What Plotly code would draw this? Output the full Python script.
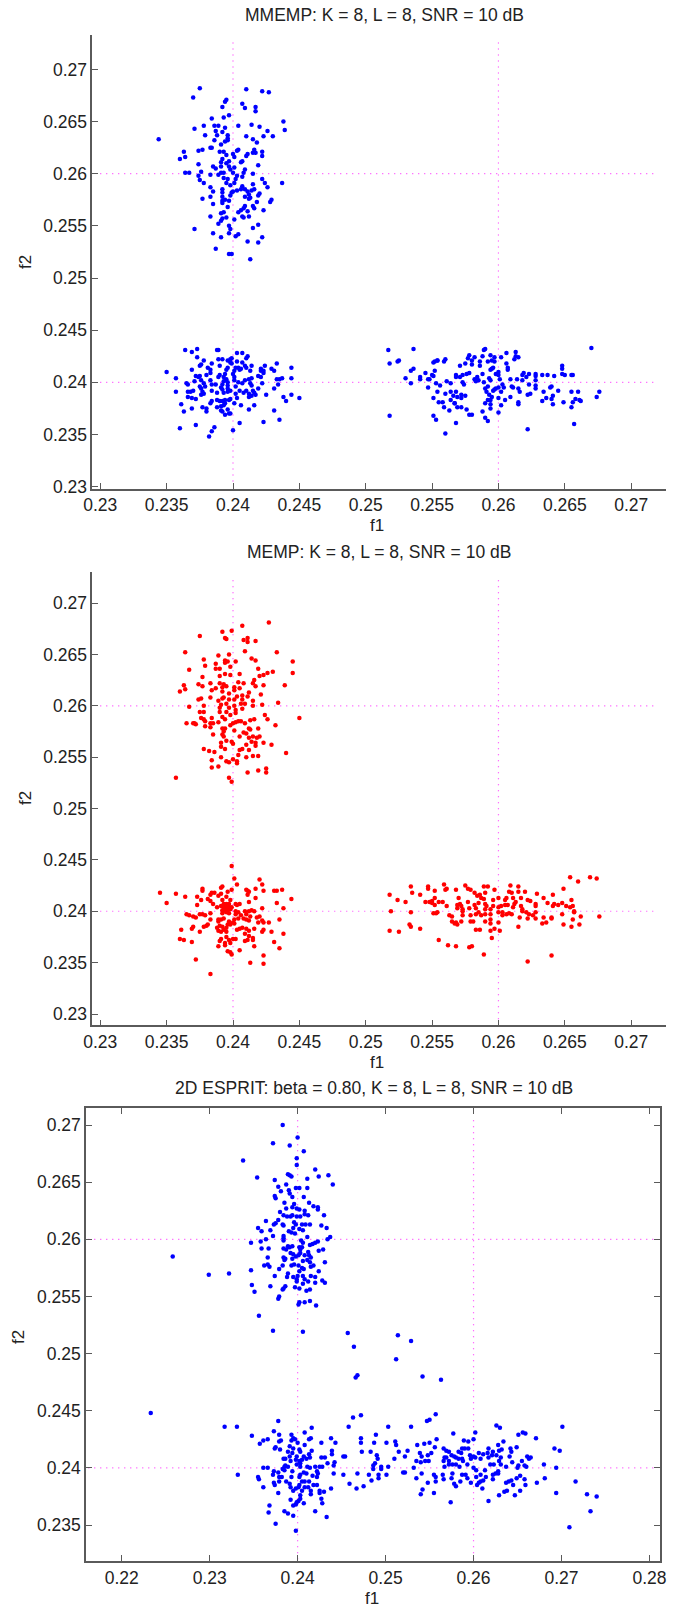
import plotly.graph_objects as go

W, H = 686, 1607

# (f1, f2) estimates, one list per cluster
mmemp_upper = [(.2344,.2633),(.2375,.2682),(.2370,.2673),(.2410,.2681),(.2422,.2679),(.2427,.2678),(.2395,.2671),(.2394,.2669),(.2392,.2664),(.2407,.2667),(.2409,.2663),(.2417,.2664),(.2417,.2660),(.2397,.2656),(.2393,.2654),(.2384,.2653),(.2438,.2650),(.2439,.2642),(.2378,.2646),(.2371,.2643),(.2386,.2646),(.2389,.2646),(.2404,.2646),(.2414,.2647),(.2420,.2645),(.2426,.2641),(.2430,.2636),(.2423,.2636),(.2410,.2636),(.2415,.2633),(.2418,.2630),(.2394,.2644),(.2387,.2641),(.2392,.2640),(.2388,.2637),(.2379,.2637),(.2396,.2637),(.2396,.2634),(.2386,.2632),(.2396,.2632),(.2394,.2631),(.2391,.2628),(.2383,.2625),(.2384,.2625),(.2377,.2623),(.2374,.2622),(.2363,.2621),(.2364,.2616),(.2360,.2614),(.2374,.2609),(.2364,.2601),(.2367,.2601),(.2376,.2602),(.2374,.2598),(.2375,.2594),(.2378,.2591),(.2383,.2599),(.2390,.2621),(.2393,.2621),(.2395,.2618),(.2403,.2622),(.2404,.2623),(.2400,.2619),(.2401,.2616),(.2411,.2619),(.2410,.2617),(.2415,.2620),(.2416,.2623),(.2417,.2620),(.2422,.2621),(.2422,.2617),(.2419,.2608),(.2392,.2614),(.2391,.2611),(.2397,.2612),(.2395,.2610),(.2407,.2612),(.2406,.2611),(.2385,.2607),(.2387,.2605),(.2391,.2607),(.2397,.2607),(.2401,.2606),(.2409,.2604),(.2408,.2601),(.2415,.2600),(.2389,.2599),(.2391,.2601),(.2393,.2601),(.2398,.2604),(.2400,.2601),(.2393,.2596),(.2396,.2595),(.2403,.2598),(.2402,.2595),(.2407,.2597),(.2401,.2591),(.2395,.2591),(.2398,.2589),(.2383,.2587),(.2385,.2583),(.2383,.2578),(.2377,.2576),(.2385,.2571),(.2392,.2585),(.2392,.2582),(.2392,.2578),(.2392,.2574),(.2392,.2572),(.2394,.2575),(.2397,.2574),(.2398,.2579),(.2399,.2582),(.2400,.2583),(.2403,.2584),(.2406,.2585),(.2407,.2588),(.2409,.2585),(.2411,.2583),(.2412,.2580),(.2409,.2578),(.2412,.2576),(.2413,.2577),(.2414,.2584),(.2416,.2585),(.2415,.2590),(.2422,.2595),(.2424,.2591),(.2426,.2587),(.2437,.2591),(.2420,.2581),(.2419,.2579),(.2418,.2573),(.2429,.2575),(.2428,.2573),(.2415,.2569),(.2416,.2567),(.2423,.2565),(.2409,.2569),(.2408,.2567),(.2411,.2564),(.2406,.2565),(.2404,.2563),(.2396,.2568),(.2393,.2563),(.2391,.2562),(.2383,.2559),(.2395,.2558),(.2392,.2557),(.2391,.2555),(.2389,.2552),(.2401,.2556),(.2407,.2559),(.2408,.2558),(.2412,.2559),(.2419,.2551),(.2415,.2548),(.2397,.2550),(.2398,.2547),(.2371,.2547),(.2385,.2543),(.2397,.2543),(.2404,.2542),(.2402,.2540),(.2391,.2539),(.2411,.2535),(.2419,.2534),(.2422,.2539),(.2387,.2528),(.2399,.2523),(.2397,.2523),(.2413,.2518)]

mmemp_lower = [(.2350,.2410),(.2364,.2431),(.2369,.2429),(.2373,.2432),(.2373,.2424),(.2378,.2421),(.2376,.2417),(.2375,.2416),(.2369,.2412),(.2357,.2404),(.2365,.2399),(.2366,.2398),(.2357,.2391),(.2366,.2391),(.2368,.2391),(.2370,.2392),(.2372,.2406),(.2375,.2406),(.2374,.2405),(.2371,.2401),(.2376,.2402),(.2380,.2407),(.2381,.2414),(.2384,.2418),(.2383,.2412),(.2383,.2409),(.2388,.2431),(.2389,.2431),(.2389,.2422),(.2390,.2416),(.2389,.2405),(.2390,.2407),(.2383,.2402),(.2384,.2398),(.2387,.2398),(.2392,.2422),(.2396,.2421),(.2398,.2422),(.2399,.2423),(.2398,.2419),(.2399,.2418),(.2403,.2420),(.2403,.2428),(.2407,.2428),(.2411,.2425),(.2410,.2423),(.2407,.2419),(.2409,.2416),(.2410,.2414),(.2414,.2416),(.2413,.2411),(.2421,.2413),(.2421,.2411),(.2423,.2411),(.2424,.2416),(.2429,.2413),(.2433,.2418),(.2431,.2411),(.2444,.2414),(.2444,.2404),(.2437,.2404),(.2433,.2403),(.2435,.2403),(.2434,.2398),(.2431,.2394),(.2422,.2399),(.2421,.2405),(.2419,.2406),(.2423,.2409),(.2396,.2414),(.2395,.2412),(.2402,.2414),(.2404,.2414),(.2405,.2412),(.2401,.2411),(.2406,.2413),(.2394,.2408),(.2393,.2405),(.2400,.2408),(.2401,.2405),(.2404,.2400),(.2407,.2399),(.2409,.2402),(.2412,.2403),(.2414,.2404),(.2413,.2399),(.2414,.2397),(.2393,.2401),(.2395,.2403),(.2396,.2400),(.2401,.2402),(.2402,.2396),(.2392,.2398),(.2396,.2397),(.2391,.2395),(.2392,.2393),(.2396,.2394),(.2378,.2399),(.2375,.2396),(.2376,.2394),(.2379,.2396),(.2377,.2391),(.2376,.2388),(.2378,.2389),(.2384,.2392),(.2388,.2390),(.2393,.2390),(.2396,.2391),(.2398,.2392),(.2402,.2389),(.2405,.2392),(.2408,.2390),(.2410,.2392),(.2412,.2389),(.2415,.2392),(.2419,.2394),(.2416,.2390),(.2417,.2388),(.2414,.2387),(.2412,.2386),(.2425,.2388),(.2438,.2386),(.2444,.2388),(.2450,.2385),(.2440,.2382),(.2366,.2386),(.2361,.2379),(.2369,.2385),(.2372,.2384),(.2363,.2372),(.2369,.2375),(.2377,.2376),(.2380,.2375),(.2380,.2372),(.2383,.2380),(.2384,.2382),(.2388,.2383),(.2390,.2382),(.2392,.2382),(.2394,.2383),(.2397,.2383),(.2398,.2384),(.2403,.2385),(.2406,.2378),(.2401,.2380),(.2388,.2376),(.2391,.2377),(.2393,.2378),(.2394,.2380),(.2396,.2374),(.2392,.2372),(.2391,.2373),(.2394,.2369),(.2397,.2370),(.2398,.2370),(.2412,.2374),(.2416,.2378),(.2431,.2373),(.2435,.2364),(.2423,.2362),(.2405,.2361),(.2360,.2356),(.2372,.2359),(.2386,.2357),(.2384,.2353),(.2382,.2348),(.2400,.2354)]

mmemp_right = [(.2517,.2431),(.2518,.2418),(.2525,.2421),(.2524,.2420),(.2536,.2432),(.2518,.2368),(.2530,.2404),(.2534,.2411),(.2536,.2413),(.2534,.2399),(.2541,.2405),(.2541,.2403),(.2545,.2409),(.2547,.2403),(.2548,.2403),(.2550,.2407),(.2551,.2406),(.2552,.2411),(.2551,.2419),(.2552,.2420),(.2554,.2421),(.2554,.2421),(.2559,.2420),(.2560,.2422),(.2547,.2395),(.2553,.2399),(.2554,.2391),(.2551,.2385),(.2556,.2397),(.2561,.2401),(.2564,.2399),(.2560,.2389),(.2564,.2391),(.2568,.2391),(.2566,.2387),(.2569,.2386),(.2572,.2388),(.2572,.2385),(.2555,.2381),(.2558,.2381),(.2559,.2376),(.2564,.2383),(.2567,.2380),(.2575,.2387),(.2567,.2380),(.2569,.2376),(.2572,.2376),(.2563,.2373),(.2551,.2368),(.2553,.2364),(.2560,.2351),(.2568,.2361),(.2576,.2374),(.2578,.2369),(.2580,.2369),(.2568,.2407),(.2568,.2405),(.2571,.2405),(.2571,.2416),(.2573,.2407),(.2573,.2400),(.2574,.2398),(.2575,.2418),(.2576,.2408),(.2578,.2409),(.2578,.2426),(.2577,.2423),(.2580,.2421),(.2580,.2417),(.2582,.2424),(.2582,.2403),(.2583,.2401),(.2584,.2405),(.2585,.2402),(.2586,.2416),(.2586,.2420),(.2588,.2408),(.2588,.2425),(.2589,.2431),(.2590,.2432),(.2589,.2400),(.2590,.2394),(.2591,.2391),(.2592,.2396),(.2592,.2420),(.2593,.2404),(.2594,.2402),(.2594,.2412),(.2595,.2413),(.2595,.2421),(.2594,.2426),(.2596,.2414),(.2597,.2420),(.2597,.2424),(.2598,.2408),(.2596,.2392),(.2593,.2388),(.2595,.2386),(.2597,.2393),(.2594,.2383),(.2592,.2383),(.2590,.2380),(.2594,.2379),(.2594,.2375),(.2588,.2372),(.2590,.2366),(.2592,.2363),(.2600,.2371),(.2598,.2394),(.2600,.2385),(.2600,.2395),(.2600,.2410),(.2600,.2407),(.2601,.2403),(.2602,.2424),(.2603,.2398),(.2602,.2391),(.2602,.2378),(.2604,.2395),(.2605,.2383),(.2606,.2418),(.2606,.2428),(.2607,.2414),(.2607,.2412),(.2609,.2403),(.2610,.2396),(.2609,.2386),(.2611,.2395),(.2612,.2422),(.2613,.2425),(.2613,.2429),(.2615,.2424),(.2614,.2403),(.2615,.2394),(.2615,.2381),(.2615,.2379),(.2616,.2391),(.2618,.2402),(.2618,.2407),(.2619,.2409),(.2622,.2355),(.2621,.2405),(.2622,.2388),(.2623,.2398),(.2623,.2408),(.2624,.2389),(.2628,.2394),(.2628,.2402),(.2628,.2406),(.2628,.2408),(.2628,.2397),(.2633,.2382),(.2634,.2391),(.2636,.2385),(.2633,.2407),(.2637,.2407),(.2639,.2395),(.2640,.2396),(.2640,.2384),(.2641,.2379),(.2641,.2387),(.2642,.2406),(.2645,.2392),(.2648,.2408),(.2648,.2413),(.2648,.2416),(.2649,.2381),(.2650,.2407),(.2655,.2391),(.2655,.2407),(.2656,.2407),(.2655,.2376),(.2656,.2381),(.2658,.2384),(.2660,.2391),(.2661,.2383),(.2662,.2382),(.2657,.2360),(.2670,.2433),(.2674,.2386),(.2676,.2391)]

memp_upper = [(.2357,.2530),(.2427,.2681),(.2407,.2678),(.2399,.2673),(.2392,.2672),(.2375,.2668),(.2394,.2666),(.2395,.2665),(.2408,.2664),(.2411,.2666),(.2411,.2662),(.2417,.2663),(.2409,.2653),(.2364,.2652),(.2433,.2652),(.2397,.2650),(.2389,.2649),(.2378,.2645),(.2379,.2639),(.2414,.2646),(.2417,.2644),(.2394,.2644),(.2394,.2642),(.2396,.2643),(.2402,.2643),(.2445,.2643),(.2445,.2632),(.2387,.2641),(.2387,.2636),(.2390,.2636),(.2398,.2638),(.2367,.2635),(.2419,.2636),(.2430,.2633),(.2426,.2632),(.2423,.2630),(.2420,.2629),(.2405,.2631),(.2398,.2630),(.2394,.2631),(.2390,.2629),(.2377,.2628),(.2416,.2625),(.2415,.2622),(.2417,.2619),(.2423,.2620),(.2439,.2620),(.2374,.2621),(.2377,.2619),(.2363,.2620),(.2364,.2616),(.2360,.2614),(.2383,.2622),(.2390,.2622),(.2393,.2621),(.2404,.2623),(.2408,.2622),(.2387,.2617),(.2384,.2615),(.2392,.2618),(.2392,.2614),(.2395,.2619),(.2401,.2618),(.2401,.2615),(.2405,.2617),(.2412,.2613),(.2421,.2611),(.2397,.2612),(.2407,.2610),(.2403,.2609),(.2411,.2609),(.2383,.2608),(.2376,.2607),(.2374,.2606),(.2389,.2605),(.2392,.2607),(.2393,.2608),(.2397,.2606),(.2401,.2606),(.2407,.2606),(.2415,.2605),(.2434,.2603),(.2367,.2599),(.2378,.2600),(.2391,.2601),(.2395,.2602),(.2406,.2602),(.2409,.2602),(.2415,.2600),(.2422,.2601),(.2375,.2594),(.2378,.2594),(.2390,.2598),(.2397,.2598),(.2401,.2600),(.2407,.2597),(.2390,.2594),(.2395,.2594),(.2398,.2591),(.2402,.2596),(.2402,.2593),(.2392,.2589),(.2424,.2591),(.2376,.2588),(.2378,.2587),(.2379,.2585),(.2384,.2588),(.2383,.2583),(.2385,.2583),(.2389,.2584),(.2394,.2587),(.2426,.2587),(.2450,.2588),(.2365,.2583),(.2370,.2583),(.2371,.2583),(.2372,.2582),(.2379,.2580),(.2383,.2579),(.2398,.2581),(.2400,.2583),(.2402,.2584),(.2404,.2585),(.2406,.2585),(.2409,.2583),(.2413,.2586),(.2416,.2587),(.2432,.2581),(.2412,.2578),(.2413,.2577),(.2419,.2578),(.2392,.2578),(.2394,.2578),(.2393,.2575),(.2392,.2572),(.2385,.2572),(.2401,.2576),(.2408,.2574),(.2410,.2573),(.2405,.2570),(.2412,.2569),(.2415,.2570),(.2418,.2569),(.2420,.2570),(.2393,.2570),(.2395,.2566),(.2399,.2565),(.2400,.2563),(.2391,.2564),(.2391,.2560),(.2394,.2558),(.2414,.2565),(.2417,.2564),(.2417,.2561),(.2423,.2564),(.2429,.2562),(.2410,.2562),(.2412,.2557),(.2407,.2558),(.2405,.2557),(.2378,.2558),(.2382,.2556),(.2386,.2555),(.2440,.2554),(.2404,.2552),(.2415,.2551),(.2419,.2551),(.2410,.2550),(.2391,.2550),(.2384,.2547),(.2400,.2548),(.2395,.2546),(.2397,.2545),(.2403,.2546),(.2403,.2544),(.2384,.2540),(.2389,.2541),(.2425,.2539),(.2419,.2537),(.2411,.2535),(.2425,.2535),(.2397,.2530),(.2399,.2526)]

memp_lower = [(.2345,.2418),(.2350,.2408),(.2357,.2417),(.2364,.2414),(.2373,.2414),(.2377,.2420),(.2377,.2422),(.2376,.2411),(.2373,.2406),(.2365,.2397),(.2367,.2396),(.2370,.2395),(.2372,.2394),(.2375,.2397),(.2377,.2397),(.2379,.2396),(.2383,.2398),(.2383,.2392),(.2381,.2412),(.2383,.2410),(.2383,.2416),(.2384,.2418),(.2386,.2418),(.2385,.2407),(.2388,.2404),(.2391,.2423),(.2392,.2424),(.2391,.2417),(.2389,.2415),(.2396,.2419),(.2399,.2444),(.2401,.2432),(.2403,.2426),(.2399,.2421),(.2395,.2414),(.2398,.2411),(.2392,.2411),(.2393,.2407),(.2395,.2407),(.2397,.2407),(.2391,.2405),(.2393,.2404),(.2395,.2404),(.2397,.2404),(.2399,.2404),(.2392,.2401),(.2394,.2401),(.2396,.2401),(.2398,.2402),(.2392,.2398),(.2395,.2399),(.2397,.2398),(.2389,.2392),(.2391,.2392),(.2393,.2393),(.2402,.2407),(.2403,.2406),(.2405,.2407),(.2410,.2421),(.2411,.2420),(.2412,.2419),(.2411,.2416),(.2417,.2422),(.2420,.2431),(.2422,.2426),(.2423,.2420),(.2417,.2413),(.2412,.2409),(.2431,.2420),(.2433,.2420),(.2437,.2421),(.2444,.2412),(.2433,.2408),(.2438,.2403),(.2422,.2403),(.2409,.2400),(.2412,.2400),(.2414,.2401),(.2416,.2400),(.2402,.2400),(.2404,.2399),(.2402,.2397),(.2406,.2396),(.2404,.2393),(.2401,.2392),(.2410,.2397),(.2413,.2395),(.2410,.2392),(.2408,.2393),(.2412,.2391),(.2418,.2394),(.2420,.2395),(.2422,.2391),(.2427,.2389),(.2435,.2392),(.2419,.2389),(.2423,.2389),(.2397,.2390),(.2400,.2389),(.2398,.2387),(.2396,.2387),(.2395,.2384),(.2401,.2388),(.2389,.2390),(.2390,.2386),(.2392,.2385),(.2388,.2384),(.2389,.2381),(.2391,.2380),(.2393,.2382),(.2395,.2380),(.2403,.2382),(.2405,.2383),(.2407,.2384),(.2410,.2383),(.2412,.2381),(.2416,.2383),(.2423,.2382),(.2422,.2380),(.2429,.2380),(.2438,.2378),(.2409,.2378),(.2412,.2376),(.2415,.2374),(.2411,.2372),(.2409,.2371),(.2415,.2372),(.2400,.2373),(.2402,.2373),(.2397,.2372),(.2391,.2373),(.2390,.2371),(.2395,.2375),(.2394,.2369),(.2398,.2369),(.2389,.2366),(.2394,.2367),(.2416,.2366),(.2431,.2370),(.2435,.2364),(.2396,.2361),(.2398,.2360),(.2399,.2358),(.2405,.2362),(.2361,.2382),(.2369,.2383),(.2370,.2385),(.2375,.2380),(.2378,.2385),(.2380,.2386),(.2381,.2387),(.2360,.2373),(.2363,.2372),(.2369,.2370),(.2372,.2353),(.2413,.2350),(.2423,.2357),(.2423,.2349),(.2383,.2339)]

memp_right = [(.2518,.2416),(.2519,.2400),(.2518,.2381),(.2524,.2411),(.2525,.2380),(.2530,.2409),(.2534,.2424),(.2535,.2418),(.2534,.2399),(.2533,.2387),(.2534,.2385),(.2541,.2416),(.2541,.2383),(.2545,.2409),(.2547,.2422),(.2547,.2424),(.2548,.2409),(.2550,.2410),(.2550,.2408),(.2552,.2406),(.2552,.2413),(.2552,.2420),(.2551,.2398),(.2553,.2398),(.2554,.2399),(.2555,.2409),(.2558,.2409),(.2559,.2426),(.2560,.2421),(.2561,.2422),(.2561,.2405),(.2555,.2372),(.2562,.2367),(.2563,.2396),(.2565,.2395),(.2565,.2390),(.2567,.2388),(.2568,.2389),(.2569,.2387),(.2568,.2421),(.2569,.2406),(.2569,.2403),(.2570,.2413),(.2571,.2407),(.2572,.2405),(.2573,.2402),(.2573,.2400),(.2573,.2396),(.2572,.2390),(.2568,.2366),(.2575,.2425),(.2577,.2409),(.2577,.2422),(.2579,.2421),(.2578,.2403),(.2579,.2396),(.2579,.2390),(.2581,.2390),(.2578,.2365),(.2580,.2366),(.2582,.2406),(.2583,.2403),(.2583,.2397),(.2582,.2418),(.2585,.2399),(.2585,.2408),(.2584,.2415),(.2586,.2416),(.2587,.2413),(.2587,.2396),(.2583,.2382),(.2586,.2382),(.2589,.2424),(.2592,.2424),(.2589,.2412),(.2590,.2418),(.2590,.2407),(.2591,.2405),(.2590,.2402),(.2590,.2397),(.2590,.2390),(.2594,.2402),(.2594,.2397),(.2594,.2392),(.2594,.2388),(.2594,.2381),(.2589,.2358),(.2595,.2374),(.2596,.2405),(.2596,.2411),(.2597,.2383),(.2597,.2421),(.2600,.2404),(.2600,.2413),(.2600,.2399),(.2600,.2389),(.2601,.2381),(.2602,.2405),(.2603,.2399),(.2603,.2396),(.2605,.2411),(.2605,.2406),(.2606,.2413),(.2606,.2397),(.2607,.2406),(.2608,.2419),(.2609,.2425),(.2608,.2398),(.2610,.2397),(.2610,.2418),(.2611,.2413),(.2611,.2404),(.2612,.2407),(.2613,.2409),(.2615,.2419),(.2615,.2424),(.2615,.2385),(.2616,.2394),(.2617,.2413),(.2617,.2405),(.2618,.2402),(.2618,.2400),(.2620,.2419),(.2621,.2399),(.2622,.2393),(.2622,.2351),(.2622,.2411),(.2624,.2410),(.2623,.2397),(.2626,.2396),(.2628,.2393),(.2628,.2407),(.2628,.2405),(.2628,.2399),(.2629,.2417),(.2633,.2388),(.2634,.2394),(.2634,.2413),(.2636,.2389),(.2640,.2394),(.2640,.2393),(.2640,.2357),(.2637,.2408),(.2641,.2405),(.2642,.2407),(.2641,.2416),(.2645,.2406),(.2648,.2408),(.2648,.2397),(.2649,.2422),(.2649,.2387),(.2651,.2405),(.2654,.2404),(.2654,.2433),(.2655,.2385),(.2655,.2411),(.2656,.2392),(.2656,.2405),(.2657,.2400),(.2657,.2399),(.2660,.2429),(.2661,.2387),(.2662,.2395),(.2669,.2433),(.2674,.2432),(.2676,.2395)]

esprit_upper = [(.2383,.2700),(.2400,.2689),(.2372,.2684),(.2391,.2682),(.2407,.2677),(.2399,.2671),(.2338,.2669),(.2399,.2665),(.2420,.2661),(.2389,.2657),(.2391,.2656),(.2393,.2655),(.2424,.2655),(.2435,.2656),(.2354,.2654),(.2411,.2653),(.2374,.2652),(.2387,.2648),(.2440,.2648),(.2378,.2646),(.2398,.2645),(.2402,.2645),(.2411,.2645),(.2381,.2642),(.2390,.2643),(.2391,.2640),(.2374,.2638),(.2375,.2636),(.2394,.2637),(.2407,.2637),(.2413,.2632),(.2385,.2632),(.2396,.2631),(.2418,.2629),(.2423,.2628),(.2423,.2626),(.2387,.2627),(.2394,.2628),(.2399,.2627),(.2402,.2626),(.2408,.2625),(.2408,.2622),(.2380,.2624),(.2384,.2621),(.2388,.2620),(.2392,.2620),(.2394,.2621),(.2399,.2620),(.2403,.2620),(.2412,.2621),(.2430,.2621),(.2378,.2617),(.2364,.2616),(.2375,.2614),(.2373,.2613),(.2383,.2613),(.2384,.2612),(.2396,.2615),(.2398,.2613),(.2405,.2613),(.2409,.2613),(.2414,.2613),(.2427,.2612),(.2433,.2610),(.2355,.2610),(.2369,.2608),(.2359,.2607),(.2395,.2610),(.2402,.2609),(.2390,.2607),(.2393,.2606),(.2397,.2605),(.2406,.2608),(.2372,.2603),(.2364,.2600),(.2384,.2603),(.2384,.2601),(.2384,.2599),(.2404,.2599),(.2411,.2602),(.2437,.2602),(.2434,.2600),(.2347,.2597),(.2358,.2598),(.2406,.2597),(.2423,.2598),(.2420,.2597),(.2417,.2596),(.2414,.2595),(.2367,.2592),(.2359,.2592),(.2389,.2594),(.2394,.2594),(.2391,.2593),(.2384,.2592),(.2387,.2591),(.2402,.2593),(.2405,.2593),(.2403,.2591),(.2429,.2591),(.2424,.2590),(.2412,.2589),(.2392,.2588),(.2395,.2587),(.2403,.2588),(.2401,.2586),(.2398,.2585),(.2408,.2586),(.2413,.2586),(.2415,.2584),(.2366,.2584),(.2384,.2584),(.2386,.2583),(.2385,.2582),(.2394,.2583),(.2406,.2581),(.2411,.2582),(.2414,.2580),(.2431,.2580),(.2362,.2577),(.2366,.2578),(.2368,.2576),(.2383,.2577),(.2393,.2577),(.2396,.2578),(.2401,.2577),(.2418,.2577),(.2415,.2576),(.2347,.2573),(.2299,.2569),(.2322,.2570),(.2258,.2585),(.2379,.2574),(.2405,.2575),(.2407,.2574),(.2402,.2572),(.2424,.2572),(.2389,.2570),(.2374,.2568),(.2388,.2567),(.2395,.2567),(.2400,.2568),(.2406,.2568),(.2415,.2568),(.2420,.2567),(.2399,.2565),(.2399,.2563),(.2408,.2565),(.2428,.2564),(.2431,.2562),(.2412,.2563),(.2420,.2562),(.2406,.2561),(.2348,.2560),(.2369,.2559),(.2386,.2559),(.2384,.2557),(.2383,.2556),(.2397,.2558),(.2402,.2557),(.2414,.2556),(.2410,.2555),(.2351,.2554),(.2379,.2550),(.2378,.2548),(.2402,.2545),(.2408,.2545),(.2414,.2546),(.2401,.2543),(.2421,.2542),(.2356,.2533),(.2372,.2520),(.2406,.2519)]

esprit_middle = [(.2457,.2518),(.2514,.2516),(.2464,.2506),(.2512,.2495),(.2466,.2479),(.2468,.2481),(.2542,.2480),(.2563,.2477),(.2529,.2511)]

esprit_lower = [(.2233,.2448),(.2317,.2436),(.2331,.2436),(.2332,.2394),(.2348,.2428),(.2378,.2441),(.2373,.2432),(.2379,.2429),(.2393,.2429),(.2408,.2431),(.2416,.2435),(.2458,.2436),(.2463,.2444),(.2472,.2446),(.2503,.2436),(.2489,.2429),(.2361,.2424),(.2366,.2425),(.2357,.2421),(.2379,.2423),(.2381,.2424),(.2395,.2426),(.2397,.2425),(.2393,.2424),(.2400,.2422),(.2413,.2425),(.2415,.2426),(.2427,.2422),(.2438,.2426),(.2443,.2422),(.2472,.2426),(.2472,.2422),(.2487,.2422),(.2501,.2422),(.2511,.2423),(.2512,.2420),(.2374,.2417),(.2375,.2418),(.2380,.2416),(.2391,.2419),(.2395,.2417),(.2389,.2414),(.2408,.2420),(.2402,.2416),(.2403,.2414),(.2416,.2415),(.2394,.2413),(.2439,.2415),(.2439,.2412),(.2473,.2414),(.2483,.2414),(.2515,.2414),(.2452,.2410),(.2454,.2410),(.2490,.2411),(.2413,.2412),(.2407,.2410),(.2399,.2410),(.2391,.2410),(.2384,.2408),(.2386,.2408),(.2392,.2406),(.2398,.2407),(.2402,.2406),(.2405,.2407),(.2410,.2408),(.2414,.2409),(.2427,.2409),(.2431,.2409),(.2491,.2408),(.2510,.2408),(.2434,.2404),(.2442,.2405),(.2441,.2402),(.2403,.2404),(.2399,.2403),(.2488,.2404),(.2486,.2402),(.2386,.2402),(.2385,.2401),(.2389,.2401),(.2361,.2400),(.2366,.2400),(.2403,.2401),(.2411,.2401),(.2414,.2400),(.2420,.2401),(.2425,.2401),(.2428,.2401),(.2486,.2399),(.2495,.2401),(.2495,.2399),(.2503,.2401),(.2373,.2397),(.2372,.2394),(.2378,.2396),(.2383,.2399),(.2385,.2398),(.2394,.2397),(.2393,.2392),(.2407,.2396),(.2403,.2394),(.2410,.2395),(.2422,.2397),(.2423,.2395),(.2441,.2395),(.2452,.2394),(.2468,.2395),(.2481,.2394),(.2492,.2394),(.2501,.2394),(.2379,.2392),(.2382,.2392),(.2402,.2392),(.2417,.2393),(.2422,.2392),(.2355,.2392),(.2356,.2390),(.2492,.2391),(.2484,.2389),(.2373,.2387),(.2379,.2388),(.2387,.2388),(.2405,.2388),(.2408,.2388),(.2413,.2388),(.2374,.2385),(.2391,.2386),(.2402,.2385),(.2418,.2385),(.2422,.2385),(.2408,.2383),(.2412,.2383),(.2392,.2383),(.2398,.2382),(.2401,.2383),(.2361,.2383),(.2459,.2386),(.2475,.2384),(.2467,.2382),(.2438,.2382),(.2425,.2380),(.2430,.2379),(.2425,.2378),(.2415,.2380),(.2415,.2377),(.2378,.2378),(.2395,.2380),(.2405,.2380),(.2403,.2376),(.2392,.2372),(.2403,.2373),(.2401,.2371),(.2399,.2370),(.2407,.2369),(.2427,.2373),(.2428,.2369),(.2368,.2367),(.2395,.2367),(.2398,.2368),(.2367,.2361),(.2385,.2362),(.2389,.2360),(.2395,.2358),(.2420,.2362),(.2433,.2357),(.2375,.2351),(.2398,.2345)]

esprit_right = [(.2529,.2436),(.2557,.2447),(.2550,.2442),(.2547,.2441),(.2577,.2430),(.2602,.2431),(.2626,.2437),(.2630,.2435),(.2651,.2429),(.2656,.2431),(.2659,.2430),(.2671,.2426),(.2701,.2436),(.2558,.2425),(.2550,.2422),(.2544,.2421),(.2536,.2420),(.2525,.2415),(.2522,.2410),(.2539,.2413),(.2541,.2410),(.2548,.2411),(.2552,.2413),(.2556,.2418),(.2535,.2406),(.2540,.2405),(.2545,.2406),(.2549,.2406),(.2532,.2400),(.2566,.2417),(.2569,.2415),(.2572,.2414),(.2575,.2411),(.2567,.2409),(.2569,.2409),(.2566,.2406),(.2572,.2406),(.2572,.2403),(.2576,.2403),(.2580,.2403),(.2567,.2401),(.2578,.2410),(.2580,.2409),(.2583,.2414),(.2587,.2417),(.2590,.2417),(.2594,.2417),(.2589,.2424),(.2594,.2423),(.2600,.2425),(.2586,.2413),(.2583,.2408),(.2587,.2408),(.2588,.2406),(.2593,.2403),(.2584,.2401),(.2596,.2411),(.2600,.2410),(.2602,.2409),(.2597,.2408),(.2608,.2408),(.2606,.2413),(.2611,.2412),(.2617,.2417),(.2622,.2414),(.2626,.2411),(.2628,.2420),(.2634,.2423),(.2632,.2416),(.2629,.2415),(.2616,.2413),(.2621,.2411),(.2617,.2409),(.2631,.2409),(.2629,.2406),(.2631,.2403),(.2623,.2403),(.2619,.2403),(.2637,.2401),(.2644,.2405),(.2641,.2410),(.2642,.2417),(.2643,.2414),(.2649,.2418),(.2655,.2406),(.2651,.2402),(.2650,.2400),(.2658,.2402),(.2660,.2401),(.2661,.2410),(.2663,.2408),(.2665,.2409),(.2680,.2403),(.2692,.2417),(.2698,.2415),(.2694,.2400),(.2600,.2400),(.2603,.2398),(.2613,.2398),(.2608,.2394),(.2603,.2392),(.2614,.2392),(.2608,.2388),(.2611,.2389),(.2606,.2387),(.2604,.2385),(.2610,.2382),(.2597,.2387),(.2591,.2394),(.2587,.2394),(.2593,.2391),(.2585,.2388),(.2576,.2395),(.2575,.2391),(.2565,.2394),(.2566,.2390),(.2578,.2386),(.2580,.2384),(.2555,.2394),(.2557,.2392),(.2557,.2388),(.2541,.2395),(.2535,.2391),(.2548,.2387),(.2520,.2396),(.2522,.2396),(.2542,.2381),(.2540,.2377),(.2555,.2378),(.2574,.2370),(.2617,.2371),(.2629,.2376),(.2635,.2379),(.2638,.2380),(.2647,.2376),(.2653,.2380),(.2659,.2385),(.2645,.2385),(.2637,.2387),(.2640,.2388),(.2643,.2389),(.2649,.2391),(.2653,.2393),(.2658,.2390),(.2622,.2394),(.2622,.2390),(.2625,.2395),(.2628,.2397),(.2628,.2395),(.2672,.2387),(.2681,.2391),(.2694,.2378),(.2716,.2388),(.2729,.2377),(.2740,.2375),(.2733,.2362),(.2709,.2348)]

titles = ["MMEMP: K = 8, L = 8, SNR = 10 dB", "MEMP: K = 8, L = 8, SNR = 10 dB",
          "2D ESPRIT: beta = 0.80, K = 8, L = 8, SNR = 10 dB"]
ticks_top_x = [0.23, 0.235, 0.24, 0.245, 0.25, 0.255, 0.26, 0.265, 0.27]
ticks_top_y = [0.23, 0.235, 0.24, 0.245, 0.25, 0.255, 0.26, 0.265, 0.27]
ticks_bot_x = [0.22, 0.23, 0.24, 0.25, 0.26, 0.27, 0.28]
ticks_bot_y = [0.235, 0.24, 0.245, 0.25, 0.255, 0.26, 0.265, 0.27]
true_f1 = [0.24, 0.26]
true_f2 = [0.24, 0.26]

FONT = "Liberation Sans"
AXC = "#5a5a5a"
TXT = "#222222"
GUIDE = "#ff40ff"

panels = [
    dict(pts=mmemp_upper + mmemp_lower + mmemp_right, col="#0000ff", xd=(92.3, 665.7), yd=(35, 488.7),
         xr=(0.2294, 0.2726), yr=(0.2298, 0.2733), xt=ticks_top_x, yt=ticks_top_y, box=False,
         gx=(0.23, 0.272), gy=(0.2305, 0.2727)),
    dict(pts=memp_upper + memp_lower + memp_right, col="#ff0000", xd=(92.3, 665.7), yd=(571.7, 1025.3),
         xr=(0.2294, 0.2726), yr=(0.2289, 0.27305), xt=ticks_top_x, yt=ticks_top_y, box=False,
         gx=(0.23, 0.272), gy=(0.2295, 0.2727)),
    dict(pts=esprit_upper + esprit_middle + esprit_lower + esprit_right, col="#0000ff", xd=(86, 660), yd=(1108, 1561),
         xr=(0.21594, 0.2812), yr=(0.23185, 0.27149), xt=ticks_bot_x, yt=ticks_bot_y, box=True,
         gx=(0.2162, 0.281), gy=(0.232, 0.2705)),
]

fig = go.Figure()
layout = dict(width=W, height=H, margin=dict(l=0, r=0, t=0, b=0, pad=0, autoexpand=False), paper_bgcolor="white",
              plot_bgcolor="white", showlegend=False, font=dict(family=FONT, color=TXT))

def fmt(v):
    return f"{v:.3f}".rstrip("0")

for i, p in enumerate(panels, start=1):
    xa, ya = f"x{i}", f"y{i}"
    for v in true_f1:
        fig.add_trace(go.Scatter(x=[v, v], y=list(p["gy"]), mode="lines", xaxis=xa, yaxis=ya,
                                 line=dict(color=GUIDE, width=1.2, dash="1px,5px"), hoverinfo="skip"))
    for v in true_f2:
        fig.add_trace(go.Scatter(x=list(p["gx"]), y=[v, v], mode="lines", xaxis=xa, yaxis=ya,
                                 line=dict(color=GUIDE, width=1.2, dash="1px,5px"), hoverinfo="skip"))
    fig.add_trace(go.Scatter(x=[a for a, _ in p["pts"]], y=[b for _, b in p["pts"]], mode="markers",
                             xaxis=xa, yaxis=ya, marker=dict(color=p["col"], size=4.5, line=dict(width=0))))
    common = dict(showgrid=False, zeroline=False, showline=True, linecolor=AXC, linewidth=1.5,
                  ticks="inside", ticklen=6, tickwidth=1, tickcolor=AXC,
                  tickfont=dict(family=FONT, size=17.5, color=TXT), tickmode="array", automargin=False,
                  mirror="allticks" if p["box"] else False)
    layout[f"xaxis{i}"] = dict(common, domain=[p["xd"][0] / W, p["xd"][1] / W], range=list(p["xr"]),
                               tickvals=p["xt"], ticktext=[fmt(v) for v in p["xt"]],
                               anchor=ya, ticklabelstandoff=0)
    layout[f"yaxis{i}"] = dict(common, domain=[1 - p["yd"][1] / H, 1 - p["yd"][0] / H], range=list(p["yr"]),
                               tickvals=p["yt"], ticktext=[fmt(v) for v in p["yt"]],
                               anchor=xa, ticklabelstandoff=0)

def note(text, px, py, size, angle=0):
    return dict(text=text, x=px / W, y=1 - py / H, xref="paper", yref="paper", showarrow=False,
                xanchor="center", yanchor="middle", textangle=angle,
                font=dict(family=FONT, size=size, color=TXT))

layout["annotations"] = [
    note(titles[0], 384, 15, 17.5), note(titles[1], 379, 552, 17.5), note(titles[2], 374, 1088, 17.5),
    note("f1", 377, 526, 17), note("f1", 377, 1062, 17), note("f1", 372, 1598, 17),
    note("f2", 25, 262, 17, -90), note("f2", 25, 798, 17, -90), note("f2", 18, 1337, 17, -90),
]
fig.update_layout(**layout)
# the default page leaves an 8 px body margin; remove it so the figure fills the window
fig.write_html("out.html", config=dict(displayModeBar=False),
               post_script="document.body.style.margin='0';document.documentElement.style.overflow='hidden';")
